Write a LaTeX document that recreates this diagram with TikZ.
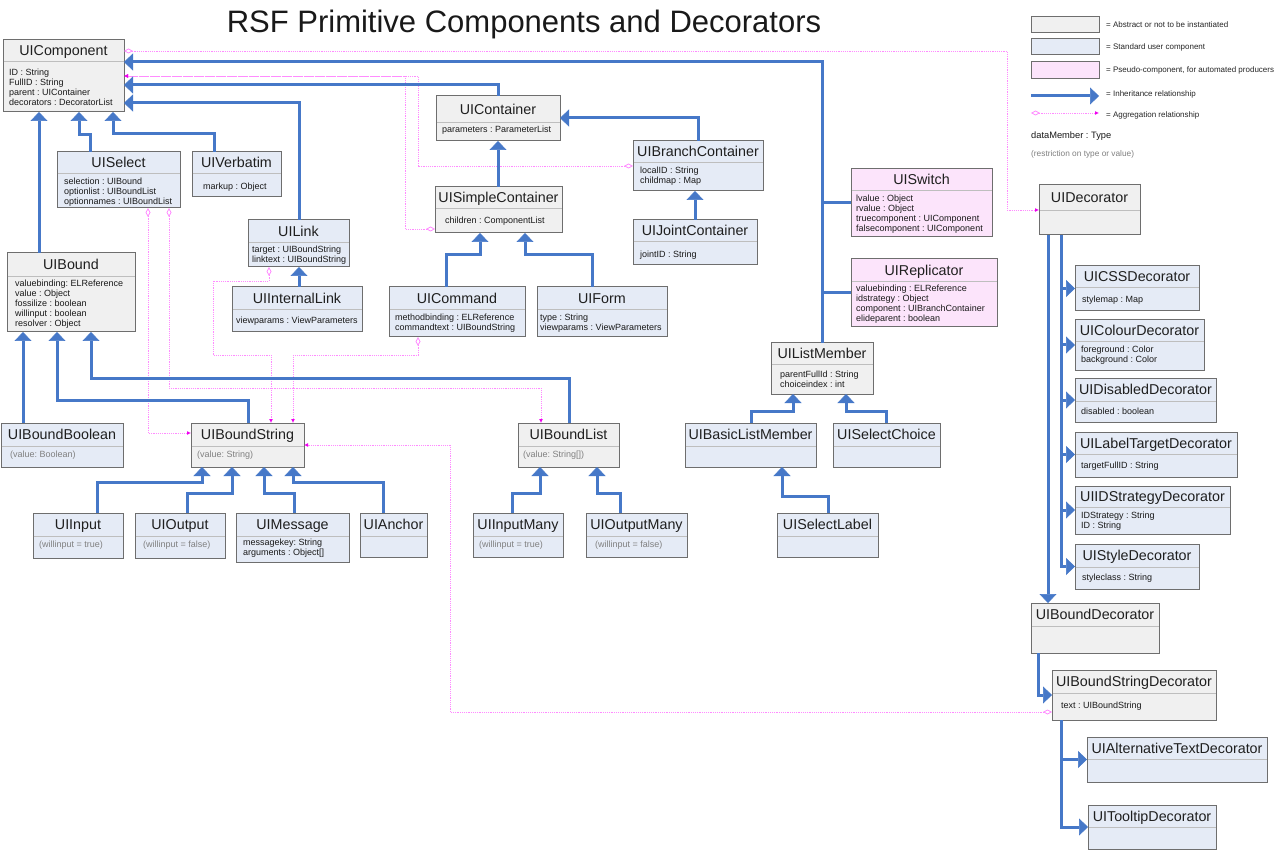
\documentclass[tikz,border=0pt]{standalone}
\usepackage{fontspec}
\setmainfont{Liberation Sans}
\frenchspacing
\usetikzlibrary{arrows.meta}
\definecolor{inhblue}{RGB}{70,120,200}
\definecolor{aggpink}{RGB}{255,140,255}
\definecolor{aggmag}{RGB}{240,0,240}
\definecolor{absfill}{RGB}{240,240,240}
\definecolor{stdfill}{RGB}{229,235,246}
\definecolor{psdfill}{RGB}{252,228,251}
\definecolor{boxline}{RGB}{110,110,110}
\definecolor{divline}{RGB}{190,190,190}
\definecolor{restrgray}{RGB}{128,128,128}
\tikzset{
 box/.style={draw=boxline, line width=1pt, anchor=north west, inner sep=0pt, outer sep=0pt},
 absbox/.style={box, fill=absfill},
 stdbox/.style={box, fill=stdfill},
 psdbox/.style={box, fill=psdfill},
 divider/.style={draw=divline, line width=1pt},
 clsname/.style={anchor=base, inner sep=0pt, font=\fontsize{14.3}{16}\selectfont, text=black!88},
 attr/.style={anchor=mid west, inner sep=0pt, font=\fontsize{9}{10}\selectfont, text=black!90},
 restr/.style={attr, text=restrgray},
 legtext/.style={anchor=mid west, inner sep=0pt, font=\fontsize{8}{10}\selectfont, text=black!85},
 inh/.style={draw=inhblue, line width=3pt, -{Triangle[length=9pt,width=17pt,line width=0.5pt]}},
 inhline/.style={draw=inhblue, line width=3pt},
 agg/.style={draw=aggpink, line width=0.8pt, dash pattern=on 1.2pt off 1pt,
   {Diamond[length=9pt,width=5pt,fill=white,line width=0.8pt]}-{Latex[length=4pt,width=4pt,color=aggmag]}},
}
\newcommand\umlcls[8]{%
  \pgfmathsetmacro\clsw{#5-#3}%
  \pgfmathsetmacro\clsh{#6-#4}%
  \pgfmathsetmacro\clsx{(#3+#5)/2}%
  \pgfmathsetmacro\clsy{(#4+#7)/2+5}%
  \node[#2, minimum width=\clsw pt, minimum height=\clsh pt] (#1) at (#3,#4) {};
  \draw[divider] (#3+0.5,#7) -- (#5-0.5,#7);
  \node[clsname] (#1-name) at (\clsx,\clsy) {#8};
}
\newcommand\umlattrs[5]{%
  \foreach \t [count=\i] in {#5} {\node[#2] (#1-a\i) at (#3,{#4+10*(\i-1)}) {\t};}%
}
\begin{document}
\begin{tikzpicture}[x=1pt,y=-1pt]
\fill[white] (0,0) rectangle (1280,850);
\useasboundingbox (0,0) rectangle (1280,850);

\node[anchor=base, inner sep=0pt, font=\fontsize{31}{36}\selectfont, text=black!90] (title) at (524,33) {RSF Primitive Components and Decorators};

% ---------- classes ----------
\umlcls{UIComponent}{absbox}{3}{40}{124}{112}{62}{UIComponent}
\umlattrs{UIComponent}{attr}{9}{73}{{ID : String},{FullID : String},{parent : UIContainer},{decorators : DecoratorList}}

\umlcls{UISelect}{stdbox}{57}{152}{180}{208}{174}{UISelect}
\umlattrs{UISelect}{attr}{64}{182}{{selection : UIBound},{optionlist : UIBoundList},{optionnames : UIBoundList}}

\umlcls{UIVerbatim}{stdbox}{192}{152}{281}{197}{174}{UIVerbatim}
\umlattrs{UIVerbatim}{attr}{203}{187}{{markup : Object}}

\umlcls{UILink}{stdbox}{248}{220}{349}{267}{243}{UILink}
\umlattrs{UILink}{attr}{252}{250}{{target : UIBoundString},{linktext : UIBoundString}}

\umlcls{UIInternalLink}{stdbox}{232}{287}{362}{332}{310}{UIInternalLink}
\umlattrs{UIInternalLink}{attr}{236}{321}{{viewparams : ViewParameters}}

\umlcls{UIBound}{absbox}{7}{253}{135}{332}{277}{UIBound}
\umlattrs{UIBound}{attr}{15}{284}{{valuebinding: ELReference},{value : Object},{fossilize : boolean},{willinput : boolean},{resolver : Object}}

\umlcls{UIContainer}{absbox}{436}{96}{560}{141}{123}{UIContainer}
\umlattrs{UIContainer}{attr}{442}{130}{{parameters : ParameterList}}

\umlcls{UIBranchContainer}{stdbox}{633}{141}{763}{191}{163}{UIBranchContainer}
\umlattrs{UIBranchContainer}{attr}{640}{171}{{localID : String},{childmap : Map}}

\umlcls{UISimpleContainer}{absbox}{435}{187}{562}{233}{209}{UISimpleContainer}
\umlattrs{UISimpleContainer}{attr}{445}{221}{{children : ComponentList}}

\umlcls{UIJointContainer}{stdbox}{633}{220}{757}{265}{242}{UIJointContainer}
\umlattrs{UIJointContainer}{attr}{640}{255}{{jointID : String}}

\umlcls{UICommand}{stdbox}{389}{287}{525}{337}{310}{UICommand}
\umlattrs{UICommand}{attr}{395}{318}{{methodbinding : ELReference},{commandtext : UIBoundString}}

\umlcls{UIForm}{stdbox}{537}{287}{667}{337}{310}{UIForm}
\umlattrs{UIForm}{attr}{540}{318}{{type : String},{viewparams : ViewParameters}}

\umlcls{UISwitch}{psdbox}{851}{169}{992}{237}{191}{UISwitch}
\umlattrs{UISwitch}{attr}{856}{199}{{lvalue : Object},{rvalue : Object},{truecomponent : UIComponent},{falsecomponent : UIComponent}}

\umlcls{UIReplicator}{psdbox}{851}{259}{997}{327}{282}{UIReplicator}
\umlattrs{UIReplicator}{attr}{856}{289}{{valuebinding : ELReference},{idstrategy : Object},{component : UIBranchContainer},{elideparent : boolean}}

\umlcls{UIListMember}{absbox}{771}{343}{873}{394}{364}{UIListMember}
\umlattrs{UIListMember}{attr}{780}{375}{{parentFullId : String},{choiceindex : int}}

\umlcls{UIBoundBoolean}{stdbox}{1}{423}{123}{467}{446}{UIBoundBoolean}
\umlattrs{UIBoundBoolean}{restr}{10}{455}{{(value: Boolean)}}

\umlcls{UIBoundString}{absbox}{191}{423}{304}{467}{446}{UIBoundString}
\umlattrs{UIBoundString}{restr}{197}{455}{{(value: String)}}

\umlcls{UIBoundList}{absbox}{518}{423}{619}{467}{446}{UIBoundList}
\umlattrs{UIBoundList}{restr}{523}{455}{{(value: String[])}}

\umlcls{UIBasicListMember}{stdbox}{685}{423}{816}{467}{446}{UIBasicListMember}
\umlcls{UISelectChoice}{stdbox}{833}{423}{940}{467}{446}{UISelectChoice}

\umlcls{UIInput}{stdbox}{33}{513}{123}{558}{536}{UIInput}
\umlattrs{UIInput}{restr}{39}{545}{{(willinput = true)}}
\umlcls{UIOutput}{stdbox}{135}{513}{225}{558}{536}{UIOutput}
\umlattrs{UIOutput}{restr}{143}{545}{{(willinput = false)}}
\umlcls{UIMessage}{stdbox}{236}{513}{349}{562}{536}{UIMessage}
\umlattrs{UIMessage}{attr}{243}{543}{{messagekey: String},{arguments : Object[]}}
\umlcls{UIAnchor}{stdbox}{360}{513}{427}{557}{536}{UIAnchor}
\umlcls{UIInputMany}{stdbox}{473}{513}{563}{557}{536}{UIInputMany}
\umlattrs{UIInputMany}{restr}{479}{545}{{(willinput = true)}}
\umlcls{UIOutputMany}{stdbox}{586}{513}{687}{557}{536}{UIOutputMany}
\umlattrs{UIOutputMany}{restr}{595}{545}{{(willinput = false)}}
\umlcls{UISelectLabel}{stdbox}{777}{513}{878}{557}{536}{UISelectLabel}

\umlcls{UIDecorator}{absbox}{1039}{185}{1140}{235}{211}{UIDecorator}
\umlcls{UICSSDecorator}{stdbox}{1075}{266}{1199}{311}{288}{UICSSDecorator}
\umlattrs{UICSSDecorator}{attr}{1082}{300}{{stylemap : Map}}
\umlcls{UIColourDecorator}{stdbox}{1075}{320}{1204}{370}{342}{UIColourDecorator}
\umlattrs{UIColourDecorator}{attr}{1081}{350}{{foreground : Color},{background : Color}}
\umlcls{UIDisabledDecorator}{stdbox}{1075}{378}{1216}{422}{401}{UIDisabledDecorator}
\umlattrs{UIDisabledDecorator}{attr}{1081}{412}{{disabled : boolean}}
\umlcls{UILabelTargetDecorator}{stdbox}{1075}{432}{1237}{477}{454}{UILabelTargetDecorator}
\umlattrs{UILabelTargetDecorator}{attr}{1081}{466}{{targetFullID : String}}
\umlcls{UIIDStrategyDecorator}{stdbox}{1075}{486}{1230}{534}{507}{UIIDStrategyDecorator}
\umlattrs{UIIDStrategyDecorator}{attr}{1081}{516}{{IDStrategy : String},{ID : String}}
\umlcls{UIStyleDecorator}{stdbox}{1075}{544}{1199}{589}{567}{UIStyleDecorator}
\umlattrs{UIStyleDecorator}{attr}{1082}{578}{{styleclass : String}}
\umlcls{UIBoundDecorator}{absbox}{1031}{603}{1159}{653}{626}{UIBoundDecorator}
\umlcls{UIBoundStringDecorator}{absbox}{1052}{670}{1216}{720}{693}{UIBoundStringDecorator}
\umlattrs{UIBoundStringDecorator}{attr}{1061}{706}{{text : UIBoundString}}
\umlcls{UIAlternativeTextDecorator}{stdbox}{1087}{737}{1267}{782}{759}{UIAlternativeTextDecorator}
\umlcls{UITooltipDecorator}{stdbox}{1088}{805}{1216}{849}{827}{UITooltipDecorator}

% ---------- legend ----------
\node[absbox, minimum width=68pt, minimum height=16pt] (legabs) at (1031,17) {};
\node[legtext] (legabs-t) at (1106,25) {= Abstract or not to be instantiated};
\node[stdbox, minimum width=68pt, minimum height=16pt] (legstd) at (1031,39) {};
\node[legtext] (legstd-t) at (1106,47) {= Standard user component};
\node[psdbox, minimum width=68pt, minimum height=17pt] (legpsd) at (1031,62) {};
\node[legtext] (legpsd-t) at (1106,70) {= Pseudo-component, for automated producers};
\coordinate (legi1) at (1031,96);
\coordinate (legi2) at (1099,96);
\draw[inh] (legi1) -- (legi2);
\node[legtext] (leginh-t) at (1106,94) {= Inheritance relationship};
\coordinate (lega1) at (1031,113);
\coordinate (lega2) at (1099,113);
\draw[agg] (lega1) -- (lega2);
\node[legtext] (legagg-t) at (1106,115) {= Aggregation relationship};
\node[attr, font=\fontsize{9.3}{11}\selectfont] (legdm) at (1031,136) {dataMember : Type};
\node[restr, font=\fontsize{8.3}{10}\selectfont] (legre) at (1031,154) {(restriction on type or value)};

% ---------- aggregation (pink) ----------
\draw[agg] (UIComponent.east |- 0,51) -| (1007,210) -- (UIDecorator.west |- 0,210);
\draw[agg] (UISimpleContainer.west |- 0,229) -| (405,76) -- (UIComponent.east |- 0,76);
\draw[agg] (UIBranchContainer.west |- 0,166) -| (418,76) -- (UIComponent.east |- 0,76);
\draw[agg] (UISelect.south -| 148,0) |- (UIBoundString.west |- 0,433);
\draw[agg] (UISelect.south -| 169,0) |- (541,388) -- (UIBoundList.north -| 541,0);
\draw[agg] (UILink.south -| 269,0) |- (213,281) |- (271,355) -- (UIBoundString.north -| 271,0);
\draw[agg] (UICommand.south -| 418,0) |- (293,355) -- (UIBoundString.north -| 293,0);
\draw[agg] (UIBoundStringDecorator.west |- 0,712) -| (450,445) -- (UIBoundString.east |- 0,445);

% ---------- inheritance (blue) ----------
\draw[inh] (UIBound.north -| 39,0) -- (UIComponent.south -| 39,0);
\draw[inh] (UISelect.north -| 90,0) |- (79,135) -- (UIComponent.south -| 79,0);
\draw[inh] (UIVerbatim.north -| 214,0) |- (113,134) -- (UIComponent.south -| 113,0);
\draw[inh] (UILink.north -| 299,0) |- (UIComponent.east |- 0,103);
\draw[inh] (UIContainer.north -| 498,0) |- (UIComponent.east |- 0,85);
\draw[inh] (UIListMember.north) |- (UIComponent.east |- 0,62);
\draw[inhline] (UISwitch.west -| UIListMember.north) -- (UISwitch.west);
\draw[inhline] (UIReplicator.west -| UIListMember.north) -- (UIReplicator.west);
\draw[inh] (UIInternalLink.north -| 299,0) -- (UILink.south -| 299,0);
\draw[inh] (UISimpleContainer.north -| 498,0) -- (UIContainer.south -| 498,0);
\draw[inh] (UIBranchContainer.north -| 698,0) |- (UIContainer.east |- 0,118);
\draw[inh] (UIJointContainer.north -| 695,0) -- (UIBranchContainer.south -| 695,0);
\draw[inh] (UICommand.north -| 446,0) |- (480,255) -- (UISimpleContainer.south -| 480,0);
\draw[inh] (UIForm.north -| 592,0) |- (525,255) -- (UISimpleContainer.south -| 525,0);

\draw[inh] (UIBoundBoolean.north -| 23,0) -- (UIBound.south -| 23,0);
\draw[inh] (UIBoundString.north -| 248,0) |- (57,400) -- (UIBound.south -| 57,0);
\draw[inh] (UIBoundList.north -| 569,0) |- (91,378) -- (UIBound.south -| 91,0);
\draw[inh] (UIInput.north -| 97,0) |- (202,482) -- (UIBoundString.south -| 202,0);
\draw[inh] (UIOutput.north -| 187,0) |- (232,493) -- (UIBoundString.south -| 232,0);
\draw[inh] (UIMessage.north -| 294,0) |- (264,493) -- (UIBoundString.south -| 264,0);
\draw[inh] (UIAnchor.north -| 383,0) |- (293,482) -- (UIBoundString.south -| 293,0);
\draw[inh] (UIInputMany.north -| 512,0) |- (540,493) -- (UIBoundList.south -| 540,0);
\draw[inh] (UIOutputMany.north -| 620,0) |- (597,493) -- (UIBoundList.south -| 597,0);
\draw[inh] (UIBasicListMember.north -| 751,0) |- (793,411) -- (UIListMember.south -| 793,0);
\draw[inh] (UISelectChoice.north -| 886,0) |- (846,411) -- (UIListMember.south -| 846,0);
\draw[inh] (UISelectLabel.north -| 828,0) |- (782,496) -- (UIBasicListMember.south -| 782,0);

\draw[inh] (UIDecorator.south -| 1061,0) |- (UIStyleDecorator.west);
\foreach \d in {UICSSDecorator,UIColourDecorator,UIDisabledDecorator,UILabelTargetDecorator,UIIDStrategyDecorator}
  {\draw[inh] (\d.west -| 1061,0) -- (\d.west);}
\draw[inh] (UIDecorator.south -| 1048,0) -- (UIBoundDecorator.north -| 1048,0);
\draw[inh] (UIBoundDecorator.south -| 1038,0) |- (UIBoundStringDecorator.west);
\draw[inh] (UIBoundStringDecorator.south -| 1061,0) |- (UITooltipDecorator.west);
\draw[inh] (UIAlternativeTextDecorator.west -| 1061,0) -- (UIAlternativeTextDecorator.west);
\end{tikzpicture}
\end{document}
